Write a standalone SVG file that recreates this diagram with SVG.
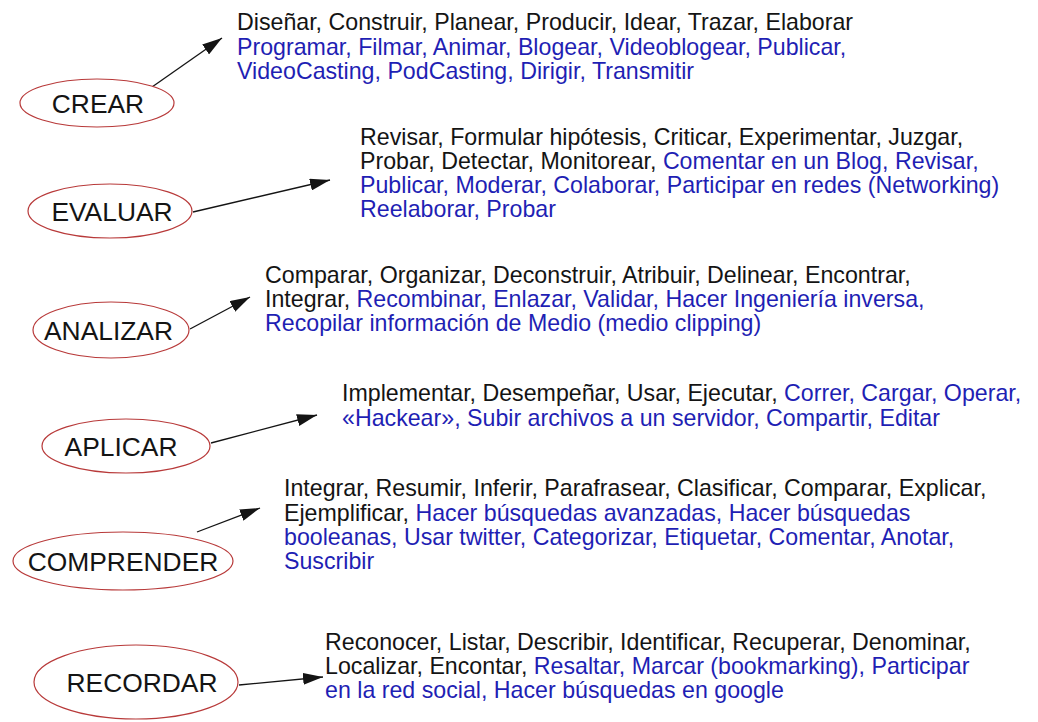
<svg xmlns="http://www.w3.org/2000/svg" width="1038" height="722" viewBox="0 0 1038 722">
<style>
.node ellipse{fill:#ffffff;stroke:#b83a3a;stroke-width:1.2}
.lbl{font-family:"Liberation Sans",Arial,sans-serif;font-size:26.4px;fill:#141414;text-anchor:middle}
.txt{font-family:"Liberation Sans",Arial,sans-serif;font-size:23.2px;fill:#141414}
.b{fill:#1f1fb4}
.edge{stroke:#141414;stroke-width:1.3;fill:none;marker-end:url(#ah)}
</style>
<defs>
<marker id="ah" viewBox="0 0 20 12" refX="20" refY="6" markerWidth="20" markerHeight="12" markerUnits="userSpaceOnUse" orient="auto">
<path d="M0,0 L20,6 L0,12 z" fill="#141414"/>
</marker>
</defs>
<rect width="1038" height="722" fill="#ffffff"/>
<g id="connectors">
<line class="edge" x1="152" y1="87" x2="222" y2="38"/>
<line class="edge" x1="193" y1="212" x2="330" y2="180"/>
<line class="edge" x1="190" y1="329" x2="250" y2="297"/>
<line class="edge" x1="211" y1="443" x2="317" y2="415"/>
<line class="edge" x1="197" y1="532" x2="260" y2="508"/>
<line class="edge" x1="239" y1="685" x2="323" y2="677"/>
</g>
<g id="crear" class="node">
<ellipse cx="97" cy="103" rx="77" ry="24"/>
<text class="lbl" x="98" y="113">CREAR</text>
</g>
<g id="evaluar" class="node">
<ellipse cx="110" cy="211" rx="82" ry="27"/>
<text class="lbl" x="112" y="221">EVALUAR</text>
</g>
<g id="analizar" class="node">
<ellipse cx="111" cy="330" rx="78" ry="28"/>
<text class="lbl" x="108.5" y="340">ANALIZAR</text>
</g>
<g id="aplicar" class="node">
<ellipse cx="126" cy="446" rx="84" ry="27"/>
<text class="lbl" x="121" y="456">APLICAR</text>
</g>
<g id="comprender" class="node">
<ellipse cx="123" cy="561" rx="110" ry="29"/>
<text class="lbl" x="123" y="571">COMPRENDER</text>
</g>
<g id="recordar" class="node">
<ellipse cx="136" cy="682" rx="102" ry="37"/>
<text class="lbl" x="142" y="692">RECORDAR</text>
</g>
<g id="crear-text">
<text class="txt" x="237" y="30">Diseñar, Construir, Planear, Producir, Idear, Trazar, Elaborar</text>
<text class="txt b" x="237" y="55">Programar, Filmar, Animar, Blogear, Videoblogear, Publicar,</text>
<text class="txt b" x="237" y="79">VideoCasting, PodCasting, Dirigir, Transmitir</text>
</g>
<g id="evaluar-text">
<text class="txt" x="360" y="145">Revisar, Formular hipótesis, Criticar, Experimentar, Juzgar,</text>
<text class="txt" x="360" y="169">Probar, Detectar, Monitorear, <tspan class="b">Comentar en un Blog, Revisar,</tspan></text>
<text class="txt b" x="360" y="193">Publicar, Moderar, Colaborar, Participar en redes (Networking)</text>
<text class="txt b" x="360" y="217">Reelaborar, Probar</text>
</g>
<g id="analizar-text">
<text class="txt" x="265" y="283">Comparar, Organizar, Deconstruir, Atribuir, Delinear, Encontrar,</text>
<text class="txt" x="265" y="307">Integrar, <tspan class="b">Recombinar, Enlazar, Validar, Hacer Ingeniería inversa,</tspan></text>
<text class="txt b" x="265" y="331">Recopilar información de Medio (medio clipping)</text>
</g>
<g id="aplicar-text">
<text class="txt" x="342" y="401">Implementar, Desempeñar, Usar, Ejecutar, <tspan class="b">Correr, Cargar, Operar,</tspan></text>
<text class="txt b" x="342" y="426">«Hackear», Subir archivos a un servidor, Compartir, Editar</text>
</g>
<g id="comprender-text">
<text class="txt" x="284" y="496">Integrar, Resumir, Inferir, Parafrasear, Clasificar, Comparar, Explicar,</text>
<text class="txt" x="284" y="521">Ejemplificar, <tspan class="b">Hacer búsquedas avanzadas, Hacer búsquedas</tspan></text>
<text class="txt b" x="284" y="545">booleanas, Usar twitter, Categorizar, Etiquetar, Comentar, Anotar,</text>
<text class="txt b" x="284" y="569">Suscribir</text>
</g>
<g id="recordar-text">
<text class="txt" x="325" y="650">Reconocer, Listar, Describir, Identificar, Recuperar, Denominar,</text>
<text class="txt" x="325" y="674">Localizar, Encontar, <tspan class="b">Resaltar, Marcar (bookmarking), Participar</tspan></text>
<text class="txt b" x="325" y="698">en la red social, Hacer búsquedas en google</text>
</g>
</svg>
